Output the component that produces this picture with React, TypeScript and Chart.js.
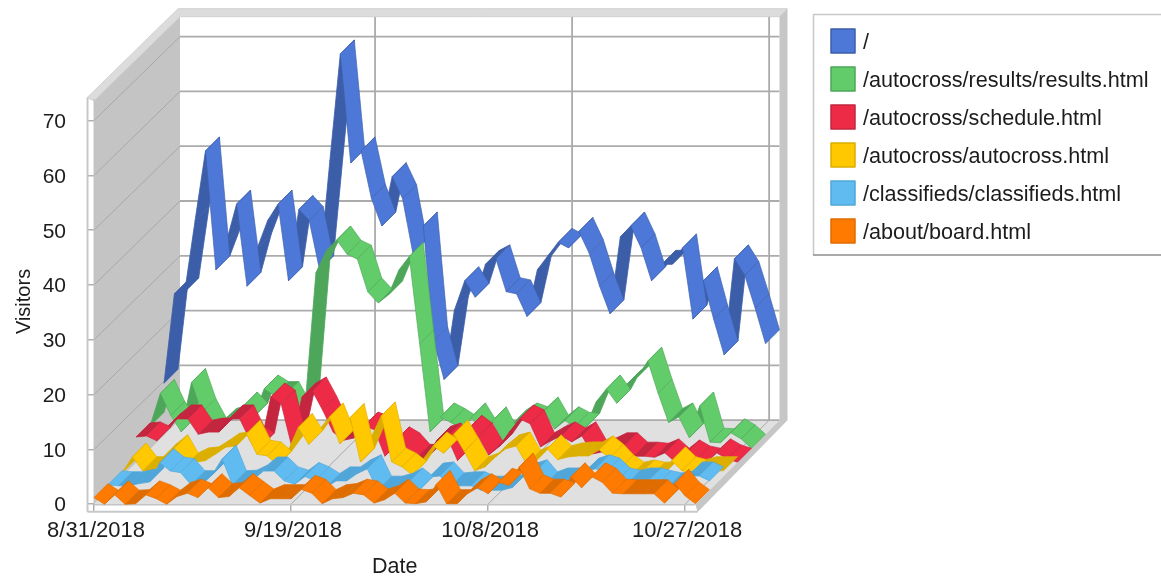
import React, { useEffect, useRef } from "react";
import { Chart, registerables } from "chart.js";

Chart.register(...registerables);

const dates = [
  "8/31/2018","9/1/2018","9/2/2018","9/3/2018","9/4/2018","9/5/2018","9/6/2018","9/7/2018","9/8/2018","9/9/2018",
  "9/10/2018","9/11/2018","9/12/2018","9/13/2018","9/14/2018","9/15/2018","9/16/2018","9/17/2018","9/18/2018","9/19/2018",
  "9/20/2018","9/21/2018","9/22/2018","9/23/2018","9/24/2018","9/25/2018","9/26/2018","9/27/2018","9/28/2018","9/29/2018",
  "9/30/2018","10/1/2018","10/2/2018","10/3/2018","10/4/2018","10/5/2018","10/6/2018","10/7/2018","10/8/2018","10/9/2018",
  "10/10/2018","10/11/2018","10/12/2018","10/13/2018","10/14/2018","10/15/2018","10/16/2018","10/17/2018","10/18/2018","10/19/2018",
  "10/20/2018","10/21/2018","10/22/2018","10/23/2018","10/24/2018","10/25/2018","10/26/2018","10/27/2018","10/28/2018",
];
const yTickValues = [0, 10, 20, 30, 40, 50, 60, 70];

const home = [9.3,25.6,26,39,51.7,30,35,42,27,34,39,42,28,41,39,30,50,69.4,49.5,51.7,43,38,47,43,33,38,17,10,22.6,28,25,31,32,26,25.6,21.5,30,32.5,35,34,37,33,27,22,36,38,34,28,31,31,34,21,28,21,14.5,32,29,23,16.5];
const results = [4,10,6,3,12,6.5,3,4.7,5.3,7.7,5.7,10.8,9.6,9.6,6.2,8.8,32,36,38,35.4,34.5,28.5,26.5,28,32.5,35,19,3,5.7,4.7,3.5,5.7,2.6,5,1.3,4.5,5.7,5,6.8,3.5,5,4,3.8,8.4,10.8,8.2,11.7,13,15.9,10,4.7,5.7,1.9,7.7,1.1,1,2.8,1.7,0];
const schedule = [4.6,4.8,3.9,6.4,7.9,7.9,5.1,5.5,5.5,7.9,7.9,4,2.8,11.9,10.6,3,11.9,13,9.5,5.5,4,4.4,6.6,5.9,1.1,3.9,2.8,0.7,0.7,4,4.6,0.3,6,4.6,1.3,2.8,5.5,7.9,7,2.8,3.9,4.8,3.7,4.8,1.5,1.9,2.8,2.8,1.1,1.1,0.9,1.7,0,1.5,0.4,0,1.7,0.6,0];
const autocross = [0.6,3.5,1,1,3.5,5,1.7,2.6,2.8,4,5.3,5.5,7.7,4,3.7,2,4.6,8.9,5.8,8.4,10.8,5.9,10.7,2.6,7,11,2.6,1.7,0.2,3,5.5,4.2,7.7,4.5,1,1.7,3.5,5,5.5,2.2,3,5,3,3.5,3.7,3.7,4.8,3.3,1.3,0,0.4,0,0,2.8,1,0.5,1,1,1];
const classifieds = [1,0.8,0.8,1.2,1.5,5,3.5,3.2,1,1,2.7,5.7,1,1.1,2,3.5,3.5,1.7,1.1,2.5,1.7,0.5,1.7,1.7,3,3.9,0,0,0.5,1.5,0,2.4,2.6,0.6,0.8,0.8,0,0,0,0.5,2.4,3,0.8,1.5,1.5,1.5,3.3,3.9,3.3,1.5,1.1,1.5,1.5,1,0.6,0.9,2.6,2.6,1.7];
const board = [1.2,0,1.7,0,0.1,1.7,1,0,1.4,2,1.2,3,1.2,1.4,3,1.6,0.2,1,1,1,2.7,2,0.1,1,1.2,2,1.7,0.2,0.8,2,0.2,0.1,0.4,3.6,0.1,0.1,1.9,3,1.9,4,3.4,6.8,2.8,2,2,1.3,5,3,5,4,2,1.9,1.9,1.9,1.9,0.2,3.8,1.5,0.1];

const seriesNames = ["/","/autocross/results/results.html","/autocross/schedule.html","/autocross/autocross.html","/classifieds/classifieds.html","/about/board.html"];
const seriesValues = [home, results, schedule, autocross, classifieds, board];
const lightColors = ["#4d78d8","#62cc6a","#ee2b46","#ffc800","#60bcf0","#ff7a00"];
const darkColors = ["#3c5ea8","#4ea65a","#c4253f","#dcae00","#50a6d8","#de6c00"];

const FONT = '"Liberation Sans", Arial, sans-serif';
const DEPTH = 84;
const SLOT = DEPTH / seriesNames.length;

const poly = (ctx: CanvasRenderingContext2D, pts: number[][], fill?: string, stroke?: string, lw = 1) => {
  ctx.beginPath();
  pts.forEach((p, i) => (i ? ctx.lineTo(p[0], p[1]) : ctx.moveTo(p[0], p[1])));
  ctx.closePath();
  if (fill) { ctx.fillStyle = fill; ctx.fill(); }
  if (stroke) { ctx.strokeStyle = stroke; ctx.lineWidth = lw; ctx.stroke(); }
};
const line = (ctx: CanvasRenderingContext2D, x1: number, y1: number, x2: number, y2: number, c: string, lw: number) => {
  ctx.beginPath(); ctx.moveTo(x1, y1); ctx.lineTo(x2, y2);
  ctx.strokeStyle = c; ctx.lineWidth = lw; ctx.stroke();
};

const box3d = {
  id: "box3d",
  beforeDatasetsDraw(chart: any) {
    const { ctx, chartArea: a, scales } = chart;
    const { x: xs, y: ys } = scales;
    const L = a.left, R = a.right, T = a.top, B = a.bottom;
    const D = DEPTH;
    ctx.save();
    poly(ctx, [[L, T], [L + D + 2, T - D + 1], [L + D + 2, B - D], [L, B]], "#c4c4c4");
    poly(ctx, [[L, B], [L + D + 2, B - D], [R + D, B - D], [R, B]], "#e0e0e0");
    ys.ticks.forEach((t: any) => {
      const y = ys.getPixelForValue(t.value);
      line(ctx, L + D + 2, y - D, R + D, y - D, "#ababab", 1.8);
      if (t.value > 0) line(ctx, L, y, L + D + 2, y - D, "#a8a8a8", 1);
    });
    xs.ticks.forEach((t: any) => {
      const x = xs.getPixelForValue(t.value);
      if (t.value > 0) {
        line(ctx, x + D, T - D + 1, x + D, B - D, "#ababab", 1.8);
        line(ctx, x, B, x + D, B - D, "#a8a8a8", 1);
      }
    });
    poly(ctx, [[L - 7, T - 1], [L + D, T - D - 6], [R + D + 8, T - D - 6], [R + D, T - D + 2], [L + D + 2, T - D + 2], [L, T + 2]], "#dcdcdc", "#d2d2d2", 1);
    poly(ctx, [[R + D, T - D + 2], [R + D + 8, T - D - 6], [R + D + 8, B - D], [R + 2, B + 8], [R, B], [R + D, B - D]], "#c6c6c6");
    line(ctx, L - 6.5, T - 1, L - 6.5, B + 7.5, "#c8c8c8", 2);
    line(ctx, L - 6.5, B + 7.5, R + 2, B + 7.5, "#c8c8c8", 2);
    line(ctx, L, B + 0.5, R, B + 0.5, "#c4c4c4", 1.5);
    line(ctx, L, T, L, B, "#c4c4c4", 1);
    ctx.restore();
  },
  afterDatasetsDraw(chart: any) {
    const { ctx } = chart;
    ctx.save();
    ctx.lineJoin = "round";
    seriesNames.forEach((_, s) => {
      const slot = seriesNames.length - 1 - s;
      const pts = chart.getDatasetMeta(s).data;
      const f = slot * SLOT;
      const b = f + SLOT;
      const quad = (i: number) => [
        [pts[i].x + f, pts[i].y - f],
        [pts[i + 1].x + f, pts[i + 1].y - f],
        [pts[i + 1].x + b, pts[i + 1].y - b],
        [pts[i].x + b, pts[i].y - b],
      ];
      for (let i = 0; i < pts.length - 1; i++) {
        if (pts[i + 1].y <= pts[i].y) poly(ctx, quad(i), darkColors[s], darkColors[s], 0.8);
      }
      for (let i = 0; i < pts.length - 1; i++) {
        if (pts[i + 1].y > pts[i].y) {
          poly(ctx, quad(i), lightColors[s]);
          ctx.globalAlpha = 0.7;
          poly(ctx, quad(i), undefined, darkColors[s], 0.9);
          ctx.globalAlpha = 1;
        }
      }
    });
    // legend
    ctx.beginPath();
    ctx.moveTo(813.5, 255); ctx.lineTo(813.5, 14.5); ctx.lineTo(1161, 14.5);
    ctx.strokeStyle = "#c8c8c8"; ctx.lineWidth = 1.5; ctx.stroke();
    line(ctx, 813, 255, 1161, 255, "#8c8c8c", 1.5);
    ctx.font = `21.6px ${FONT}`;
    ctx.textBaseline = "middle";
    ctx.textAlign = "left";
    seriesNames.forEach((name, s) => {
      const top = 28 + s * 38;
      ctx.fillStyle = lightColors[s];
      ctx.fillRect(831, top + 1, 24, 24);
      ctx.strokeStyle = darkColors[s];
      ctx.lineWidth = 1.5;
      ctx.strokeRect(831, top + 1, 24, 24);
      ctx.fillStyle = "#1c1c1c";
      ctx.fillText(name, 863, top + 15);
    });
    ctx.restore();
  },
};

export default function App() {
  const ref = useRef<HTMLCanvasElement>(null);
  useEffect(() => {
    const chart = new Chart(ref.current as HTMLCanvasElement, {
      type: "line",
      plugins: [box3d],
      data: {
        labels: dates,
        datasets: seriesNames.map((name, s) => ({
          label: name,
          data: seriesValues[s],
          showLine: false,
          pointRadius: 0,
          borderColor: darkColors[s],
          backgroundColor: lightColors[s],
        })),
      },
      options: {
        animation: false,
        responsive: false,
        layout: { autoPadding: false, padding: { top: 98.7, right: 465.5, left: 0, bottom: 0 } },
        plugins: { legend: { display: false }, tooltip: { enabled: false } },
        scales: {
          x: {
            type: "category",
            offset: false,
            afterBuildTicks: (axis: any) => { axis.ticks = axis.ticks.filter((t: any) => t.value % 19 === 0); },
            afterFit: (axis: any) => { axis.height = 75.8; },
            grid: { drawOnChartArea: false, drawTicks: true, tickLength: 7, color: "#b0b0b0", lineWidth: 1.5 },
            border: { display: false },
            ticks: { autoSkip: false, maxRotation: 0, minRotation: 0, padding: 7, labelOffset: 2, color: "#1c1c1c", font: { family: FONT, size: 22 } },
            title: { display: true, text: "Date", color: "#1c1c1c", font: { family: FONT, size: 21.5 }, padding: { top: 0, bottom: 0 } },
          },
          y: {
            type: "linear",
            min: 0,
            max: 74,
            afterBuildTicks: (axis: any) => { axis.ticks = yTickValues.map((value) => ({ value })); },
            afterFit: (axis: any) => { axis.width = 94; },
            grid: { drawOnChartArea: false, drawTicks: true, tickLength: 7, color: "#b0b0b0", lineWidth: 1.5 },
            border: { display: false },
            ticks: { padding: 21, labelOffset: 1.5, color: "#1c1c1c", font: { family: FONT, size: 21 } },
            title: { display: true, text: "Visitors", color: "#1c1c1c", font: { family: FONT, size: 20 }, padding: { top: 12, bottom: 0 } },
          },
        },
      },
    } as any);
    return () => chart.destroy();
  }, []);
  return (
    <div style={{ position: "fixed", left: 0, top: 0, width: 1161, height: 580, background: "#fff" }}>
      <canvas ref={ref} width={1161} height={580} style={{ display: "block", filter: "blur(0.5px)" }} />
    </div>
  );
}
